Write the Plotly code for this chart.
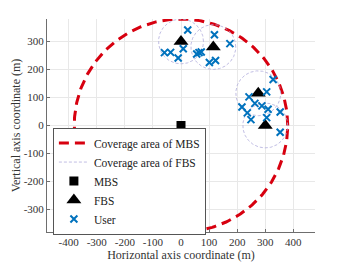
import numpy as np
import plotly.graph_objects as go

# Data
mbs_x = [0]
mbs_y = [0]
mbs_radius = 380

fbs_x = [0, 115, 275, 300]
fbs_y = [300, 280, 115, 0]
fbs_radius = 80

user_x = [24, 8, -59, -37, -10,
          119, 174, 56, 64, 72, 101, 123,
          328, 305, 242, 263, 217, 288, 310, 236, 353, 249, 305, 353]
user_y = [341, 274, 260, 261, 241,
          324, 292, 255, 260, 262, 225, 232,
          164, 120, 102, 79, 66, 70, 58, 45, 48, 21, 28, -24]

x_ticks = [-400, -300, -200, -100, 0, 100, 200, 300, 400]
x_tick_labels = ["-400", "-300", "-200", "-100", "0", "100", "200", "300", "400"]
y_ticks = [-300, -200, -100, 0, 100, 200, 300]
y_tick_labels = ["-300", "-200", "-100", "0", "100", "200", "300"]

FONT = "Liberation Serif, Times New Roman, Times, serif"

t = np.linspace(0, 2 * np.pi, 361)
fig = go.Figure()

# MBS coverage circle
fig.add_trace(go.Scatter(
    x=mbs_x[0] + mbs_radius * np.cos(t), y=mbs_y[0] + mbs_radius * np.sin(t),
    mode="lines", name="Coverage area of MBS",
    line=dict(color="#d7000f", width=3, dash="10px,6px")))

# FBS coverage circles
for i, (cx, cy) in enumerate(zip(fbs_x, fbs_y)):
    fig.add_trace(go.Scatter(
        x=cx + fbs_radius * np.cos(t), y=cy + fbs_radius * np.sin(t),
        mode="lines", name="Coverage area of FBS", showlegend=(i == 0),
        legendgroup="fbs",
        line=dict(color="#b0acdc", width=0.8, dash="3px,2px")))

fig.add_trace(go.Scatter(x=mbs_x, y=mbs_y, mode="markers", name="MBS",
                         marker=dict(symbol="square", size=9, color="black")))
fig.add_trace(go.Scatter(x=fbs_x, y=fbs_y, mode="markers", name="FBS",
                         marker=dict(symbol="triangle-up", size=13, color="black")))
fig.add_trace(go.Scatter(x=user_x, y=user_y, mode="markers", name="User",
                         marker=dict(symbol="x-thin", size=7, color="#0072BD",
                                     line=dict(width=2, color="#0072BD"))))

axis_common = dict(showgrid=True, gridcolor="#e8e8e8", gridwidth=1,
                   zeroline=False, showline=True, linecolor="#6e6e6e", linewidth=1,
                   ticks="inside", ticklen=3, tickcolor="#6e6e6e",
                   tickfont=dict(family=FONT, size=11, color="#333"),
                   automargin=False, mirror=False)

# The page body adds an 8px offset; size/margins compensate so the plot area
# lands at x 47..315, y 19..232 of the 350x263 window.
fig.update_layout(
    width=342, height=255,
    margin=dict(l=39, r=35, t=11, b=31, autoexpand=False),
    paper_bgcolor="white", plot_bgcolor="white",
    font=dict(family=FONT, size=12, color="#222"),
    xaxis=dict(range=[-477, 477], tickvals=x_ticks, ticktext=x_tick_labels,
               title=dict(text="Horizontal axis coordinate (m)", standoff=0,
                          font=dict(family=FONT, size=12, color="#333")),
               **axis_common),
    yaxis=dict(range=[-380, 380], tickvals=y_ticks, ticktext=y_tick_labels,
               title=dict(text="Vertical axis coordinate (m)", standoff=0,
                          font=dict(family=FONT, size=12, color="#333")),
               **axis_common),
    legend=dict(x=0.022, y=-0.012, xanchor="left", yanchor="bottom",
                bgcolor="white", bordercolor="#555", borderwidth=1,
                font=dict(family=FONT, size=11.5, color="#222"),
                tracegroupgap=0, itemwidth=30),
    showlegend=True,
)

fig.write_html("out.html")
